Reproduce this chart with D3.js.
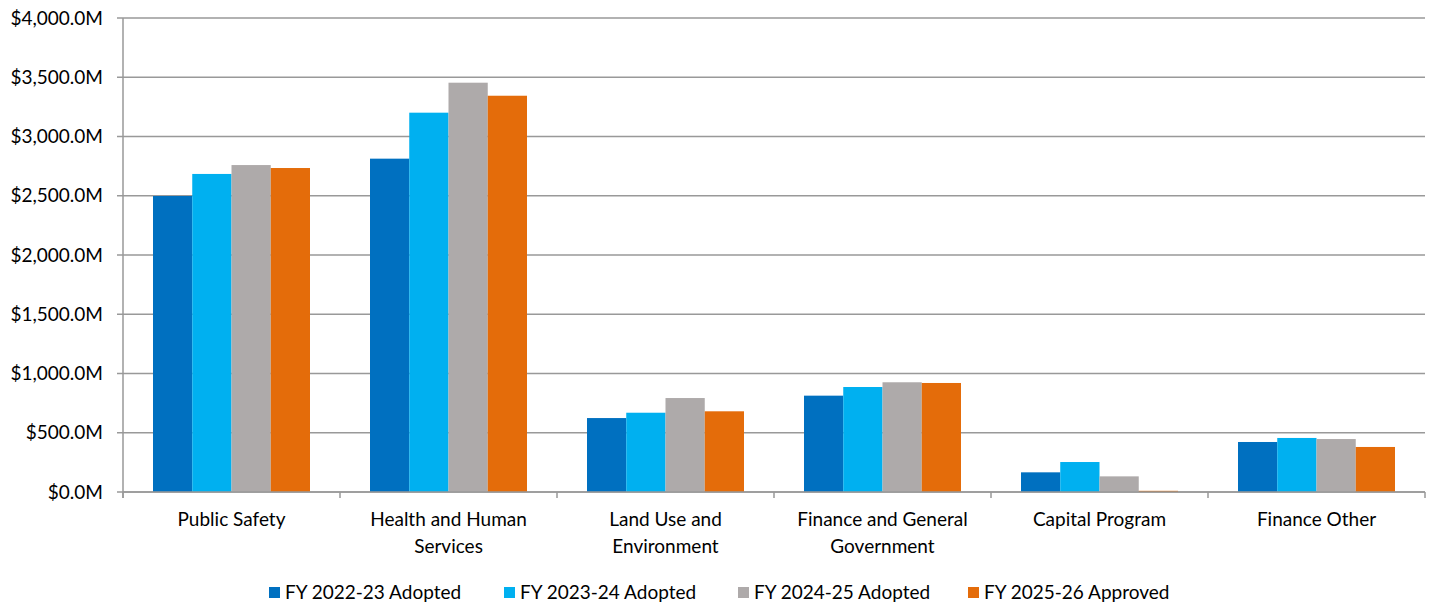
<!DOCTYPE html>
<html><head><meta charset="utf-8">
<script src="https://cdn.jsdelivr.net/npm/d3@7"></script>
<style>body{margin:0;background:#fff;} svg{display:block;font-family:Lato,"Open Sans",sans-serif;}</style>
</head><body><svg id="c" width="1432" height="606"></svg>
<script>
const categories = [["Public Safety"],["Health and Human","Services"],["Land Use and","Environment"],["Finance and General","Government"],["Capital Program"],["Finance Other"]];
const seriesNames = ["FY 2022-23 Adopted","FY 2023-24 Adopted","FY 2024-25 Adopted","FY 2025-26 Approved"];
const fy2223 = [2498, 2813, 624, 813, 166, 422];
const fy2324 = [2684, 3201, 669, 886, 253, 456];
const fy2425 = [2759, 3454, 793, 926, 132, 447];
const fy2526 = [2734, 3344, 681, 920, 10, 380];
const yTicks = [0,500,1000,1500,2000,2500,3000,3500,4000];
const colors = ["#0070C0","#00B0F0","#AEAAAA","#E46C0A"];
const series = [fy2223, fy2324, fy2425, fy2526];

const svg = d3.select("#c");
const L=123, R=1425, T=18, B=492;
const x0 = d3.scaleBand().domain(d3.range(categories.length)).range([L,R]).paddingInner(0).paddingOuter(0);
const x1 = d3.scaleBand().domain(d3.range(series.length)).range([30, x0.bandwidth()-30]);
const y = d3.scaleLinear().domain([0,4000]).range([B,T]);

// gridlines
svg.append("g").selectAll("line").data(yTicks).join("line")
  .attr("x1",L-6).attr("x2",R).attr("y1",d=>y(d)).attr("y2",d=>y(d))
  .attr("stroke","#999").attr("stroke-width",1.5);
// y labels
svg.append("g").selectAll("text").data(yTicks).join("text")
  .attr("x",103).attr("y",d=>y(d)).attr("dy","0.35em").attr("text-anchor","end")
  .attr("font-size",19).attr("fill","#000")
  .text(d=>"$"+d3.format(",.1f")(d)+"M");

// bars
const g = svg.append("g");
series.forEach((s,si)=>{
  g.selectAll(null).data(s).join("rect")
    .attr("x",(d,i)=>x0(i)+x1(si)).attr("width",x1.bandwidth())
    .attr("y",d=>y(d)).attr("height",d=>B-y(d))
    .attr("fill",colors[si]);
});

// axes lines
svg.append("line").attr("x1",L).attr("x2",L).attr("y1",T).attr("y2",B+6).attr("stroke","#999").attr("stroke-width",1.5);
svg.append("line").attr("x1",L).attr("x2",R).attr("y1",B).attr("y2",B).attr("stroke","#999").attr("stroke-width",1.5);
svg.append("g").selectAll("line").data(d3.range(categories.length+1)).join("line")
  .attr("x1",d=>L+d*x0.bandwidth()).attr("x2",d=>L+d*x0.bandwidth()).attr("y1",B).attr("y2",B+6)
  .attr("stroke","#999").attr("stroke-width",1.5);

// category labels
const cl = svg.append("g").selectAll("text").data(categories).join("text")
  .attr("text-anchor","middle").attr("font-size",19).attr("fill","#000")
  .attr("transform",(d,i)=>`translate(${x0(i)+x0.bandwidth()/2},526)`);
cl.selectAll("tspan").data(d=>d).join("tspan").attr("x",0).attr("dy",(d,i)=>i?27:0).text(d=>d);

// legend
const legX = [269, 504, 738, 968];
const lg = svg.append("g").selectAll("g").data(seriesNames).join("g")
  .attr("transform",(d,i)=>`translate(${legX[i]},592)`);
lg.append("rect").attr("x",0).attr("y",-5).attr("width",11).attr("height",11).attr("fill",(d,i)=>colors[i]);
lg.append("text").attr("x",16).attr("y",0).attr("dy","0.35em").attr("font-size",19).attr("fill","#000").text(d=>d);
</script></body></html>
